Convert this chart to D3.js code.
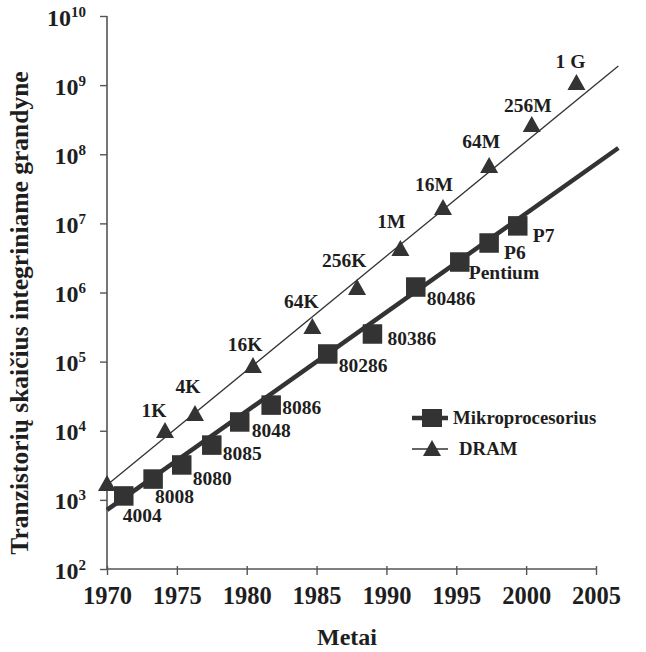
<!DOCTYPE html>
<html><head><meta charset="utf-8">
<script src="https://cdn.jsdelivr.net/npm/d3@7"></script>
<style>
body{margin:0;background:#fff;}
text{font-family:"Liberation Serif","Times New Roman",serif;font-weight:bold;fill:#1e1e1e;}
</style></head>
<body><svg id="c" width="646" height="652"></svg>
<script>
// ---- data ----
const cpuNames  = ["4004","8008","8080","8085","8048","8086","80286","80386","80486","Pentium","P6","P7"];
const cpuYears  = [1971.2,1973.3,1975.35,1977.5,1979.5,1981.75,1985.8,1989.0,1992.1,1995.25,1997.35,1999.4];
const cpuCounts = [1140,2000,3200,6200,13400,23500,129000,251000,1.2e6,2.76e6,5.2e6,9.2e6];

const dramNames  = ["","1K","4K","16K","64K","256K","1M","16M","64M","256M","1 G"];
const dramYears  = [1970,1974.15,1976.3,1980.45,1984.7,1987.9,1991.0,1994.05,1997.35,2000.4,2003.6];
const dramCounts = [1750,10260,18000,89000,327000,1.2e6,4.4e6,1.73e7,7.0e7,2.74e8,1.11e9];

const cpuTrendYears  = [1970,2006.6];
const cpuTrendCounts = [715,1.23e8];
const dramTrendYears  = [1970,2006.6];
const dramTrendCounts = [1640,1.89e9];

const xTicks = [1970,1975,1980,1985,1990,1995,2000,2005];
const yExponents = [2,3,4,5,6,7,8,9,10];

const seriesNames = ["Mikroprocesorius","DRAM"];
const xTitle = "Metai";
const yTitle = "Tranzistorių skaičius integriniame grandyne";

// ---- layout (label offsets relative to markers) ----
const cpuLabelDx = [-1,2,11,11,12,11,11,15,11,9,15,15];
const cpuLabelDy = [26,24,20,15,15,9,18,11,18,17,16,16];
const dramLabelDx = [0,-11,-7,-8,-11,-13,-9,-9,-8,-4,-6];
const dramLabelDy = [0,-13,-20,-14,-18,-20,-20,-16,-17,-12,-14];

const svg = d3.select("#c");
const X0=107, X1=596, Y0=569, Y1=16;
const x = d3.scaleLinear().domain([1970,2005]).range([X0,X1]);
const y = d3.scaleLog().domain([1e2,1e10]).range([Y0,Y1]);
const ink="#333", axisCol="#555";

// axes
const gx = svg.append("g").attr("transform",`translate(0,${Y0})`)
  .call(d3.axisBottom(x).tickValues(xTicks).tickSize(6).tickFormat(d3.format("d")));
gx.select(".domain").attr("stroke",axisCol).attr("stroke-width",1.6).attr("d",`M${X0},0H${X1}`);
gx.selectAll(".tick line").attr("stroke",axisCol).attr("stroke-width",1.4).attr("y1",-3).attr("y2",6);
gx.selectAll(".tick text").attr("y",35).attr("dy",0).style("font-size","24.5px")
  .style("font-family","Liberation Serif").style("font-weight","bold").attr("fill","#1e1e1e");

const gy = svg.append("g").attr("transform",`translate(${X0},0)`)
  .call(d3.axisLeft(y).tickValues(yExponents.map(e=>Math.pow(10,e))).tickSize(7).tickFormat(""));
gy.select(".domain").attr("stroke",axisCol).attr("stroke-width",1.6).attr("d",`M0,${Y0}V${Y1}`);
gy.selectAll(".tick line").attr("stroke",axisCol).attr("stroke-width",1.4);
gy.selectAll(".tick").each(function(d,i){
  const t = d3.select(this).append("text").attr("x",-21).attr("y",9).attr("text-anchor","end")
    .style("font-size","24px");
  t.append("tspan").text("10");
  t.append("tspan").attr("dy",-9).style("font-size","15px").text(String(yExponents[i]));
});

// trend lines
const line = d3.line().x(d=>x(d[0])).y(d=>y(d[1]));
svg.append("path").datum(cpuTrendYears.map((v,i)=>[v,cpuTrendCounts[i]]))
  .attr("d",line).attr("fill","none").attr("stroke",ink).attr("stroke-width",4.5);
svg.append("path").datum(dramTrendYears.map((v,i)=>[v,dramTrendCounts[i]]))
  .attr("d",line).attr("fill","none").attr("stroke",ink).attr("stroke-width",1.3);

const SQ=19.5, TW=18, TH=16;
const tri = (w,h)=>`M0,${-h/2}L${w/2},${h/2}L${-w/2},${h/2}Z`;

// cpu markers
svg.append("g").selectAll("rect").data(cpuYears).join("rect")
  .attr("x",(d,i)=>x(d)-SQ/2).attr("y",(d,i)=>y(cpuCounts[i])-SQ/2)
  .attr("width",SQ).attr("height",SQ).attr("fill",ink);
svg.append("g").selectAll("text").data(cpuNames).join("text")
  .attr("x",(d,i)=>x(cpuYears[i])+cpuLabelDx[i]).attr("y",(d,i)=>y(cpuCounts[i])+cpuLabelDy[i])
  .style("font-size","19.5px").text(d=>d);

// dram markers
svg.append("g").selectAll("path").data(dramYears).join("path")
  .attr("transform",(d,i)=>`translate(${x(d)},${y(dramCounts[i])})`)
  .attr("d",tri(TW,TH)).attr("fill",ink);
svg.append("g").selectAll("text").data(dramNames).join("text")
  .attr("x",(d,i)=>x(dramYears[i])+dramLabelDx[i]).attr("y",(d,i)=>y(dramCounts[i])+dramLabelDy[i])
  .attr("text-anchor","middle").style("font-size","19.5px").text(d=>d);

// legend
const lg = svg.append("g");
lg.append("line").attr("x1",412).attr("x2",448).attr("y1",418).attr("y2",418).attr("stroke",ink).attr("stroke-width",4.5);
lg.append("rect").attr("x",432-10).attr("y",418-9).attr("width",20).attr("height",18).attr("fill",ink);
lg.append("text").attr("x",453).attr("y",424).style("font-size","18.8px").text(seriesNames[0]);
lg.append("line").attr("x1",412).attr("x2",448).attr("y1",449).attr("y2",449).attr("stroke",ink).attr("stroke-width",1.3);
lg.append("path").attr("transform","translate(432,448)").attr("d",tri(TW,TH)).attr("fill",ink);
lg.append("text").attr("x",459).attr("y",455).style("font-size","18.8px").text(seriesNames[1]);

// titles
svg.append("text").attr("x",347).attr("y",645).attr("text-anchor","middle").style("font-size","24px").text(xTitle);
svg.append("text").attr("transform","translate(28,313) rotate(-90)").attr("text-anchor","middle")
  .style("font-size","25.5px").text(yTitle);
</script></body></html>
